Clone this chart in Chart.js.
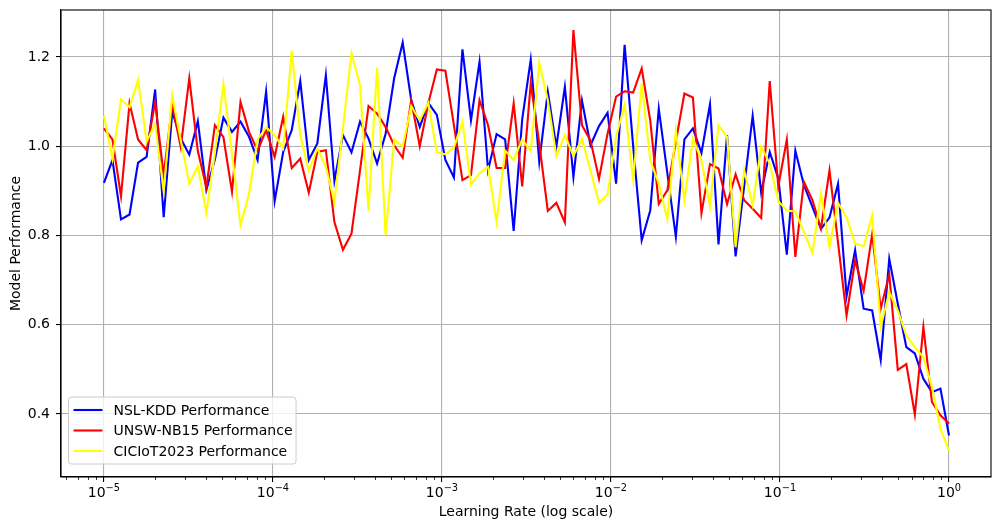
<!DOCTYPE html>
<html lang="en">
<head>
  <meta charset="UTF-8">
  <title>Model Performance vs Learning Rate</title>
  <script src="https://cdn.jsdelivr.net/npm/chart.js"></script>
  <style>
    body { margin: 0; background: #fff; }
    canvas { display: block; }
  </style>
</head>
<body>
  <canvas id="myChart" width="1001" height="529"></canvas>

  <script>
    // learning rates: 100 log-spaced points from 1e-5 to 1e0
    var lrStartExp = -5;
    var lrEndExp = 0;
    var lrCount = 100;
    var learningRates = [];
    for (var i = 0; i < lrCount; i++) {
      learningRates.push(Math.pow(10, lrStartExp + (lrEndExp - lrStartExp) * i / (lrCount - 1)));
    }

    var seriesNames = ['NSL-KDD Performance', 'UNSW-NB15 Performance', 'CICIoT2023 Performance'];

    var nslKdd = [
      0.918, 0.969, 0.836, 0.847, 0.963, 0.976, 1.127, 0.841, 1.077, 1.017,
      0.981, 1.056, 0.902, 0.970, 1.064, 1.032, 1.055, 1.021, 0.969, 1.122,
      0.877, 0.987, 1.036, 1.146, 0.969, 1.006, 1.159, 0.922, 1.025, 0.986,
      1.055, 1.017, 0.961, 1.028, 1.152, 1.232, 1.103, 1.043, 1.097, 1.070,
      0.969, 0.930, 1.217, 1.058, 1.189, 0.946, 1.027, 1.015, 0.810, 1.060,
      1.194, 0.965, 1.122, 0.999, 1.133, 0.931, 1.102, 1.002, 1.045, 1.075,
      0.916, 1.227, 1.000, 0.789, 0.856, 1.084, 0.940, 0.797, 1.015, 1.040,
      0.985, 1.094, 0.780, 1.025, 0.753, 0.910, 1.068, 0.896, 0.987, 0.928,
      0.757, 0.990, 0.913, 0.864, 0.815, 0.840, 0.916, 0.664, 0.767, 0.636,
      0.632, 0.521, 0.748, 0.647, 0.550, 0.536, 0.479, 0.449, 0.457, 0.352
    ];

    var unswNb15 = [
      1.040, 1.015, 0.888, 1.096, 1.015, 0.991, 1.099, 0.935, 1.092, 0.998,
      1.152, 0.989, 0.908, 1.047, 1.020, 0.898, 1.099, 1.032, 0.990, 1.036,
      0.976, 1.066, 0.951, 0.972, 0.896, 0.987, 0.991, 0.830, 0.768, 0.804,
      0.946, 1.090, 1.073, 1.043, 1.002, 0.974, 1.103, 1.000, 1.096, 1.172,
      1.169, 1.047, 0.924, 0.935, 1.103, 1.047, 0.951, 0.951, 1.096, 0.910,
      1.141, 1.006, 0.855, 0.873, 0.829, 1.260, 1.047, 1.013, 0.927, 1.028,
      1.111, 1.123, 1.120, 1.174, 1.058, 0.871, 0.901, 1.010, 1.118, 1.109,
      0.850, 0.960, 0.950, 0.870, 0.937, 0.879, 0.860, 0.839, 1.146, 0.910,
      1.015, 0.752, 0.920, 0.879, 0.815, 0.946, 0.784, 0.621, 0.744, 0.676,
      0.803, 0.636, 0.713, 0.499, 0.512, 0.399, 0.595, 0.427, 0.397, 0.379
    ];

    var cicIot2023 = [
      1.068, 0.972, 1.105, 1.087, 1.148, 1.010, 1.050, 0.898, 1.114, 1.013,
      0.916, 0.955, 0.851, 0.985, 1.139, 0.984, 0.823, 0.894, 1.015, 1.042,
      1.025, 0.995, 1.214, 1.025, 0.945, 0.995, 0.954, 0.875, 1.040, 1.208,
      1.137, 0.855, 1.176, 0.800, 1.015, 0.999, 1.090, 1.058, 1.097, 0.986,
      0.982, 0.997, 1.055, 0.914, 0.939, 0.954, 0.830, 0.990, 0.969, 1.015,
      0.989, 1.187, 1.103, 0.978, 1.025, 0.978, 1.016, 0.946, 0.873, 0.892,
      1.021, 1.093, 0.924, 1.141, 0.969, 0.916, 0.836, 1.036, 0.879, 1.017,
      0.969, 0.866, 1.047, 1.021, 0.774, 0.946, 0.868, 0.999, 0.961, 0.877,
      0.856, 0.854, 0.808, 0.761, 0.894, 0.774, 0.873, 0.841, 0.782, 0.776,
      0.845, 0.595, 0.673, 0.632, 0.576, 0.550, 0.527, 0.460, 0.367, 0.318
    ];

    var yTicks = [0.4, 0.6, 0.8, 1.0, 1.2];
    var xDecades = [-5, -4, -3, -2, -1, 0];

    function toPoints(values) {
      return values.map(function (v, i) { return { x: learningRates[i], y: v }; });
    }

    var FONT = 'DejaVu Sans';

    // minor log ticks, 10^n tick labels and the full frame
    var framePlugin = {
      id: 'frame',
      afterDraw: function (chart) {
        var ctx = chart.ctx;
        var area = chart.chartArea;
        var xs = chart.scales.x;
        ctx.save();
        ctx.strokeStyle = '#000';
        ctx.lineWidth = 0.8;
        for (var n = -6; n <= 0; n++) {
          for (var k = 2; k <= 9; k++) {
            var v = k * Math.pow(10, n);
            if (v < xs.min || v > xs.max) continue;
            var px = Math.round(xs.getPixelForValue(v)) + 0.5;
            ctx.beginPath();
            ctx.moveTo(px, area.bottom);
            ctx.lineTo(px, area.bottom + 3);
            ctx.stroke();
          }
        }
        ctx.lineWidth = 1.1;
        ctx.strokeRect(area.left, area.top, area.right - area.left, area.bottom - area.top);

        // tick labels like 10^-5 with a real superscript
        ctx.fillStyle = '#000';
        ctx.textBaseline = 'alphabetic';
        ctx.textAlign = 'left';
        xDecades.forEach(function (e) {
          var base = '10';
          var exp = String(e).replace('-', '\u2212');
          ctx.font = '14px "' + FONT + '"';
          var wb = ctx.measureText(base).width;
          ctx.font = '9.8px "' + FONT + '"';
          var we = ctx.measureText(exp).width;
          var cx = xs.getPixelForValue(Math.pow(10, e));
          var x0 = cx - (wb + we) / 2;
          ctx.font = '14px "' + FONT + '"';
          ctx.fillText(base, x0, area.bottom + 19.5);
          ctx.font = '9.8px "' + FONT + '"';
          ctx.fillText(exp, x0 + wb, area.bottom + 14);
        });
        ctx.restore();
      }
    };

    var legendPlugin = {
      id: 'boxLegend',
      afterDraw: function (chart) {
        var ctx = chart.ctx;
        var area = chart.chartArea;
        var x0 = area.left + 7.5, y0 = area.bottom - 80, w = 227.5, h = 67;
        ctx.save();
        ctx.beginPath();
        ctx.roundRect(x0, y0, w, h, 3);
        ctx.fillStyle = 'rgba(255,255,255,0.8)';
        ctx.fill();
        ctx.strokeStyle = '#cccccc';
        ctx.lineWidth = 1;
        ctx.stroke();
        ctx.font = '14px "' + FONT + '"';
        ctx.textBaseline = 'middle';
        ctx.fillStyle = '#000';
        chart.data.datasets.forEach(function (ds, i) {
          var yy = y0 + 13 + i * 20.5;
          ctx.strokeStyle = ds.borderColor;
          ctx.lineWidth = 2.1;
          ctx.beginPath();
          ctx.moveTo(x0 + 5, yy);
          ctx.lineTo(x0 + 34, yy);
          ctx.stroke();
          ctx.fillText(ds.label, x0 + 45, yy + 1);
        });
        ctx.restore();
      }
    };

    var data = {
      datasets: [
        { label: seriesNames[0], data: toPoints(nslKdd), borderColor: 'blue', order: 2 },
        { label: seriesNames[1], data: toPoints(unswNb15), borderColor: 'red', order: 1 },
        { label: seriesNames[2], data: toPoints(cicIot2023), borderColor: 'yellow', order: 0 }
      ]
    };
    data.datasets.forEach(function (ds) {
      ds.borderWidth = 2.1;
      ds.pointRadius = 0;
      ds.pointHoverRadius = 0;
      ds.tension = 0;
      ds.fill = false;
      ds.backgroundColor = ds.borderColor;
    });

    var ctx = document.getElementById('myChart').getContext('2d');

    var myChart = new Chart(ctx, {
      type: 'line',
      data: data,
      plugins: [framePlugin, legendPlugin],
      options: {
        responsive: false,
        animation: false,
        layout: { padding: { left: 0, top: 10, right: 10, bottom: 0 } },
        scales: {
          x: {
            type: 'logarithmic',
            min: Math.pow(10, -5.254),
            max: Math.pow(10, 0.2485),
            afterBuildTicks: function (scale) {
              scale.ticks = xDecades.map(function (e) { return { value: Math.pow(10, e), major: true }; });
            },
            afterFit: function (scale) {
              scale.height = 52;
              scale.paddingLeft = 0;
              scale.paddingRight = 0;
            },
            grid: { color: '#b0b0b0', lineWidth: 1.1, tickColor: '#000', tickLength: 5, tickWidth: 1.1 },
            border: { color: '#000', width: 1.1 },
            ticks: {
              autoSkip: false,
              maxRotation: 0,
              color: 'rgba(0,0,0,0)',
              font: { family: FONT, size: 14 },
              callback: function () { return ''; }
            },
            title: {
              display: true,
              text: 'Learning Rate (log scale)',
              color: '#000',
              font: { family: FONT, size: 14 },
              padding: { top: 0, bottom: 8 }
            }
          },
          y: {
            min: 0.259,
            max: 1.305,
            afterBuildTicks: function (scale) {
              scale.ticks = yTicks.map(function (v) { return { value: v }; });
            },
            afterFit: function (scale) {
              scale.width = 61;
              scale.paddingTop = 0;
              scale.paddingBottom = 0;
            },
            grid: { color: '#b0b0b0', lineWidth: 1.1, tickColor: '#000', tickLength: 5, tickWidth: 1.1 },
            border: { color: '#000', width: 1.1 },
            ticks: {
              padding: 6,
              color: '#000',
              font: { family: FONT, size: 14 },
              callback: function (value) { return value.toFixed(1); }
            },
            title: {
              display: true,
              text: 'Model Performance',
              color: '#000',
              font: { family: FONT, size: 14 },
              padding: { top: 8, bottom: 0 }
            }
          }
        },
        plugins: {
          legend: { display: false },
          tooltip: { enabled: false }
        }
      }
    });
  </script>
</body>
</html>
